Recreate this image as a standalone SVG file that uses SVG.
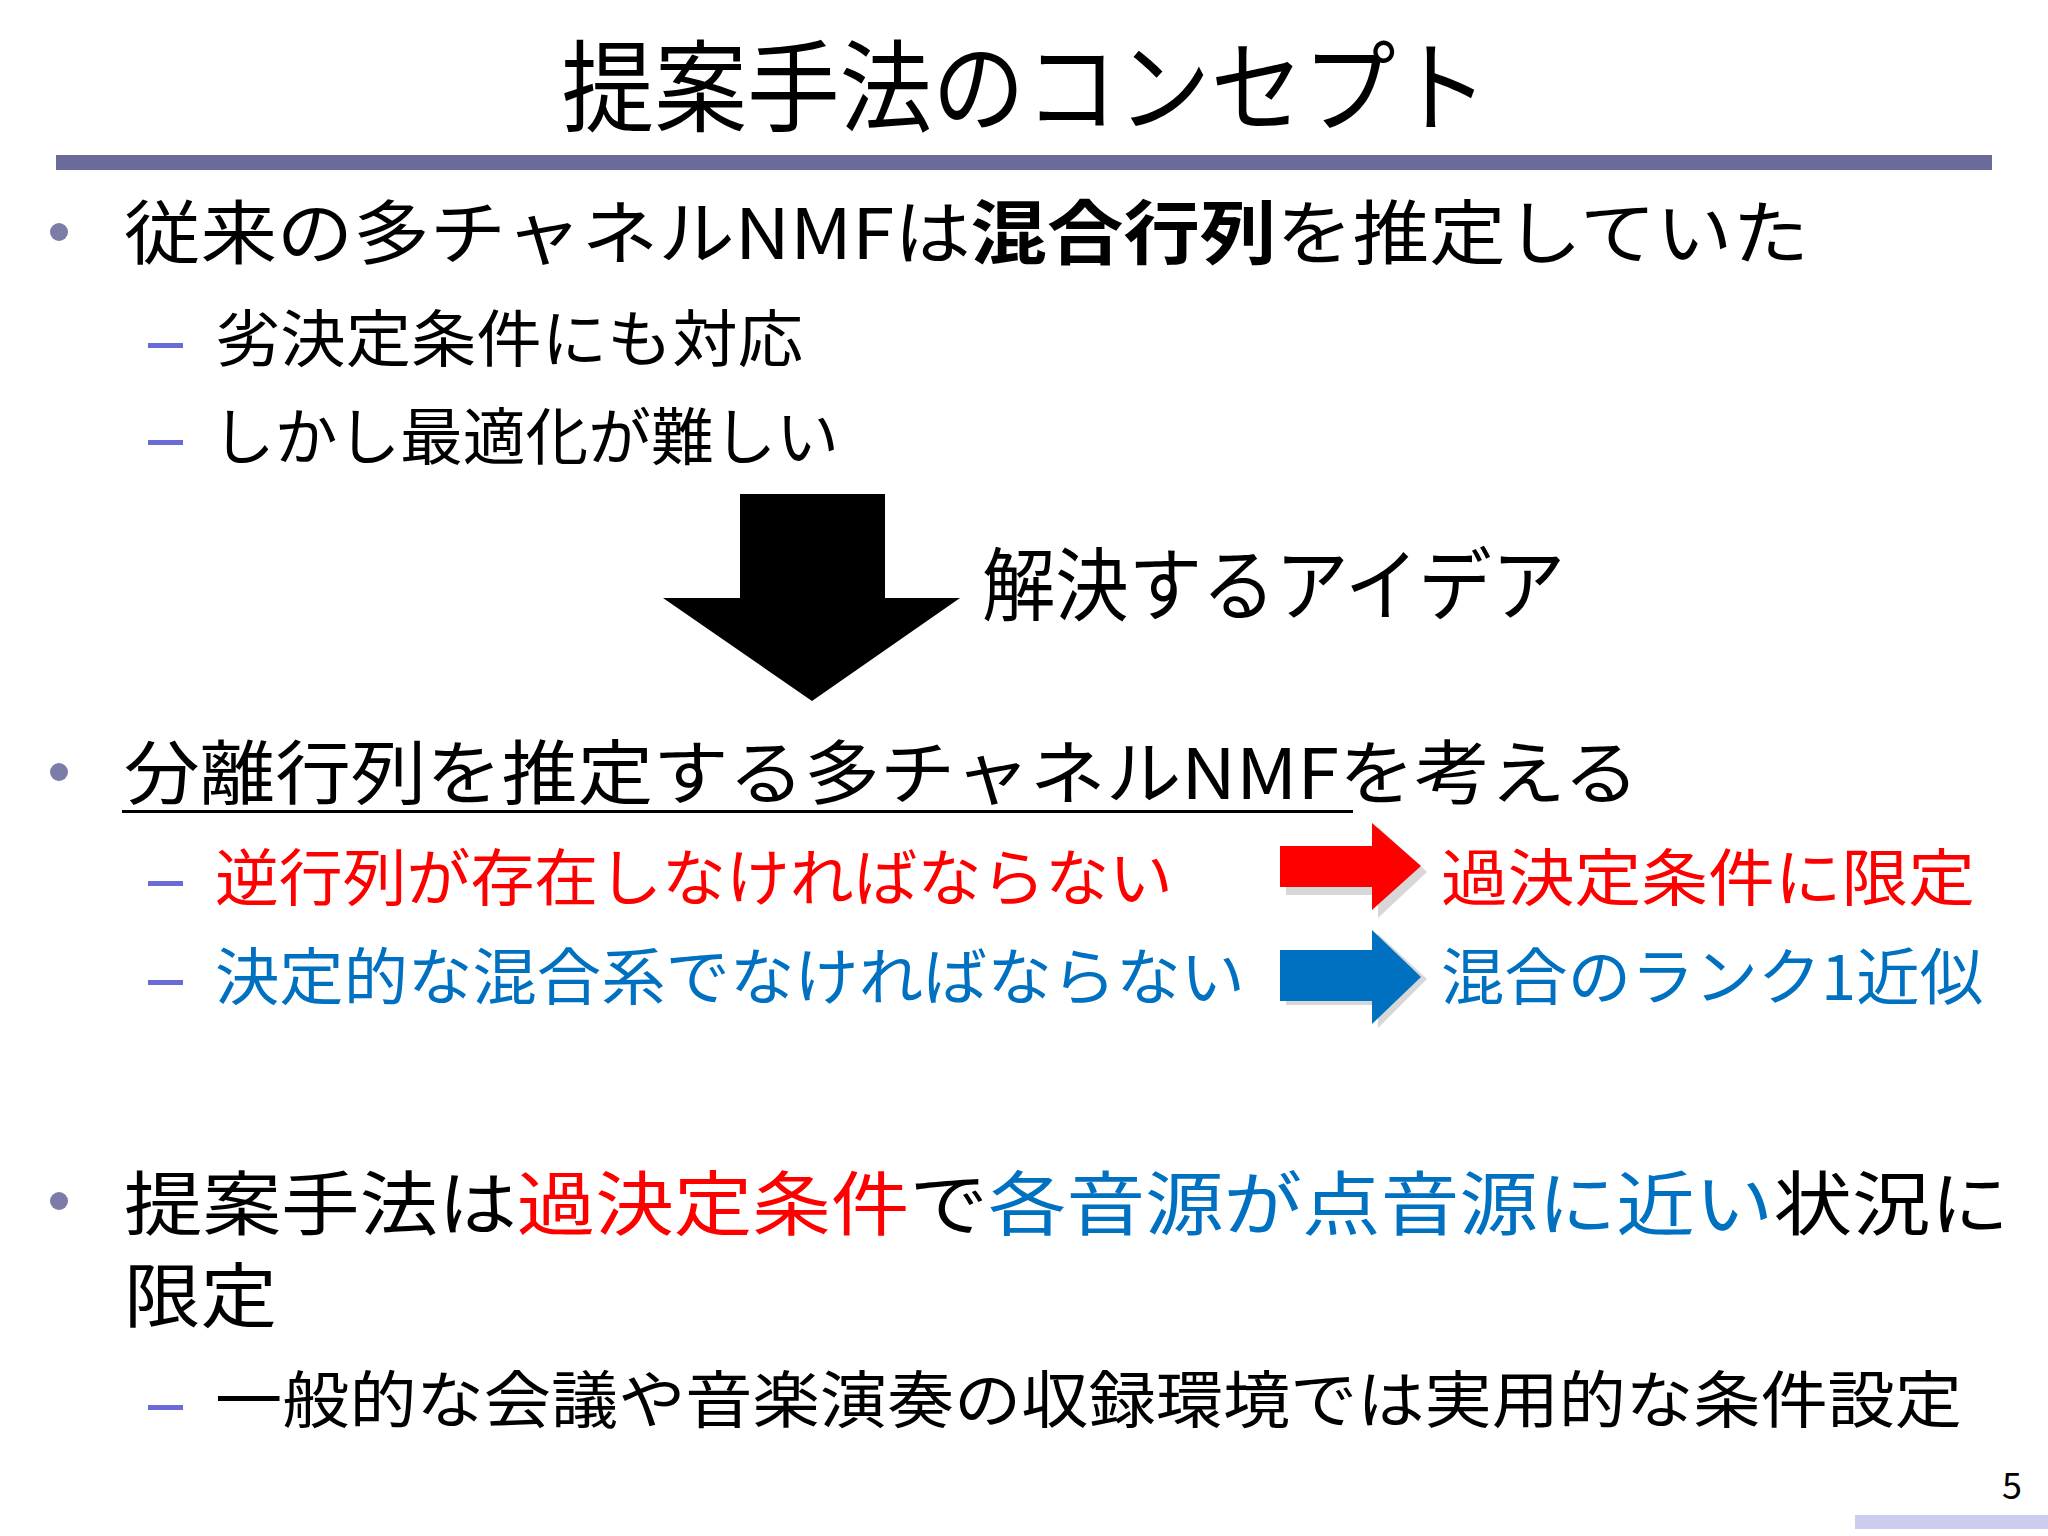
<svg xmlns="http://www.w3.org/2000/svg" width="2048" height="1536" viewBox="0 0 2048 1536">
<style>
text{font-family:"Noto Sans CJK JP","Liberation Sans",sans-serif;fill:#000}
.b1{font-size:70px}.s{font-size:62px}
.r{fill:#ff0000}.bl{fill:#0070c0}.bd{font-weight:bold}
.dot{fill:#7c7ca8}.dash{fill:#6a6ad8}
</style>
<rect width="2048" height="1536" fill="#fff"/>
<g id="title"><text x="1025" y="124" font-size="100" text-anchor="middle" textLength="927" lengthAdjust="spacingAndGlyphs">提案手法のコンセプト</text>
<rect x="56" y="155" width="1936" height="15" fill="#6b6b9b"/></g>
<g id="b1"><circle class="dot" cx="59" cy="232" r="9"/>
<text class="b1" x="124" y="259" textLength="1685" lengthAdjust="spacingAndGlyphs">従来の多チャネルNMFは<tspan class="bd">混合行列</tspan>を推定していた</text></g>
<g id="s1"><rect class="dash" x="148" y="343" width="35" height="5"/><text class="s" x="215" y="362" textLength="588" lengthAdjust="spacingAndGlyphs">劣決定条件にも対応</text></g>
<g id="s2"><rect class="dash" x="148" y="440" width="35" height="5"/><text class="s" x="212" y="460" textLength="627" lengthAdjust="spacingAndGlyphs">しかし最適化が難しい</text></g>
<g id="connectors">
<polygon points="740,494 885,494 885,598 960,598 812,701 663,598 740,598" fill="#000"/>
<polygon points="1282,850 1374,850 1374,823 1423,868 1374,914 1374,891 1282,891" fill="#9a9a9a" opacity="0.4" transform="translate(4,4)"/>
<polygon points="1280,846 1372,846 1372,823 1421,866 1372,910 1372,887 1280,887" fill="#ff0000"/>
<polygon points="1282,950 1374,950 1374,930 1423,975 1374,1024 1374,1001 1282,1001" fill="#9a9a9a" opacity="0.4" transform="translate(4,4)"/>
<polygon points="1280,950 1372,950 1372,930 1421,977 1372,1024 1372,1001 1280,1001" fill="#0070c0"/>
</g>
<g id="idea"><text x="982" y="614" font-size="80" textLength="583" lengthAdjust="spacingAndGlyphs">解決するアイデア</text></g>
<g id="b2"><circle class="dot" cx="59" cy="772" r="9"/>
<text class="b1" x="124" y="799" textLength="1515" lengthAdjust="spacingAndGlyphs">分離行列を推定する多チャネルNMFを考える</text>
<rect x="122" y="810" width="1231" height="3" fill="#000"/></g>
<g id="red"><rect class="dash" x="148" y="881" width="35" height="5"/><text class="s r" x="215" y="901" textLength="958" lengthAdjust="spacingAndGlyphs">逆行列が存在しなければならない</text>
<text class="s r" x="1441" y="901" textLength="534" lengthAdjust="spacingAndGlyphs">過決定条件に限定</text></g>
<g id="blue"><rect class="dash" x="148" y="980" width="35" height="5"/><text class="s bl" x="215" y="1000" textLength="1030" lengthAdjust="spacingAndGlyphs">決定的な混合系でなければならない</text>
<text class="s bl" x="1441" y="1000" textLength="542" lengthAdjust="spacingAndGlyphs">混合のランク1近似</text></g>
<g id="b3"><circle class="dot" cx="59" cy="1201" r="9"/>
<text class="b1" x="124" y="1230" textLength="1885" lengthAdjust="spacingAndGlyphs">提案手法は<tspan class="r">過決定条件</tspan>で<tspan class="bl">各音源が点音源に近い</tspan>状況に</text>
<text class="b1" x="124" y="1322" textLength="153" lengthAdjust="spacingAndGlyphs">限定</text></g>
<g id="s3"><rect class="dash" x="148" y="1405" width="35" height="5"/><text class="s" x="215" y="1423" textLength="1747" lengthAdjust="spacingAndGlyphs">一般的な会議や音楽演奏の収録環境では実用的な条件設定</text></g>
<g id="page"><text x="2012" y="1499" font-size="36" text-anchor="middle">5</text>
<rect x="1855" y="1515" width="193" height="14" fill="#ccccee"/></g>
</svg>
